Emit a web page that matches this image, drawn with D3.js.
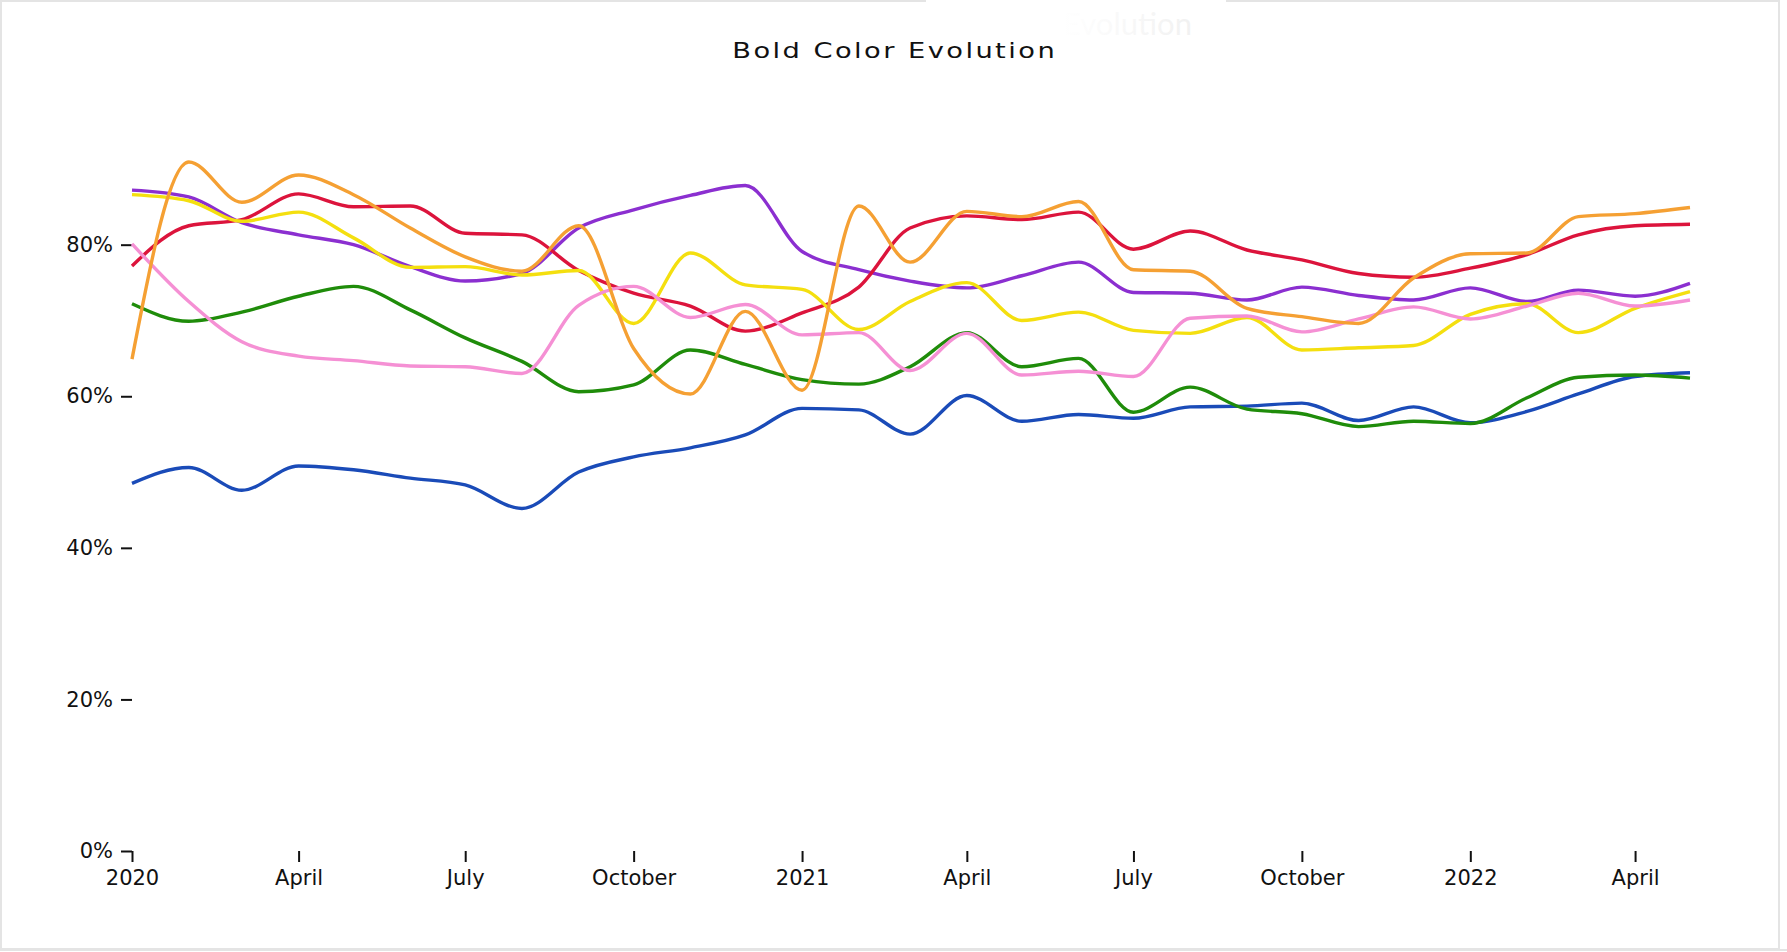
<!DOCTYPE html>
<html>
<head>
<meta charset="utf-8">
<script src="https://cdn.jsdelivr.net/npm/d3@7"></script>
<style>
  html, body { margin: 0; padding: 0; background: #fff; overflow: hidden; }
  .axis text { font-family: "DejaVu Sans", sans-serif; font-size: 21px; fill: #111; }
  .axis line { stroke: #111; stroke-width: 2; }
  .axis path { display: none; }
</style>
</head>
<body>
<svg id="chart" width="1787" height="952"></svg>
<script>
// Monthly samples, Jan 2020 - May 2022
const months = [
  '2020-01', '2020-02', '2020-03', '2020-04', '2020-05', '2020-06', '2020-07', '2020-08', '2020-09', '2020-10', '2020-11', '2020-12',
  '2021-01', '2021-02', '2021-03', '2021-04', '2021-05', '2021-06', '2021-07', '2021-08', '2021-09', '2021-10', '2021-11', '2021-12',
  '2022-01', '2022-02', '2022-03', '2022-04', '2022-05'
];

const blue   = [48.5, 50.6, 47.6, 50.8, 50.3, 49.2, 48.3, 45.2, 50.0, 52.0, 53.2, 54.9, 58.4, 58.2, 55.0, 60.1, 56.7, 57.6, 57.1, 58.6, 58.7, 59.1, 56.8, 58.6, 56.5, 58.0, 60.3, 62.6, 63.1];
const green  = [72.2, 69.9, 71.1, 73.2, 74.5, 71.4, 67.7, 64.6, 60.6, 61.5, 66.1, 64.2, 62.2, 61.6, 63.9, 68.4, 63.9, 65.0, 57.9, 61.2, 58.3, 57.7, 56.0, 56.7, 56.4, 59.8, 62.5, 62.8, 62.4];
const purple = [87.2, 86.3, 82.9, 81.3, 80.0, 77.1, 75.2, 76.2, 82.2, 84.6, 86.5, 87.8, 79.1, 76.7, 75.2, 74.3, 75.9, 77.7, 73.7, 73.6, 72.7, 74.4, 73.3, 72.7, 74.3, 72.5, 74.0, 73.2, 74.9];
const red    = [77.2, 82.5, 83.3, 86.7, 85.0, 85.1, 81.5, 81.3, 76.6, 73.6, 71.9, 68.6, 71.0, 74.4, 82.2, 83.8, 83.3, 84.3, 79.4, 81.8, 79.3, 78.0, 76.2, 75.7, 76.9, 78.7, 81.3, 82.5, 82.7];
const yellow = [86.6, 85.8, 83.1, 84.3, 80.9, 77.0, 77.1, 76.0, 76.6, 69.6, 78.9, 74.7, 74.1, 68.8, 72.5, 75.0, 70.0, 71.1, 68.7, 68.3, 70.4, 66.1, 66.4, 66.7, 70.8, 72.2, 68.4, 71.6, 73.8];
const pink   = [80.1, 72.5, 67.2, 65.3, 64.7, 64.0, 63.9, 63.0, 72.0, 74.5, 70.4, 72.1, 68.1, 68.4, 63.4, 68.3, 62.8, 63.3, 62.6, 70.3, 70.6, 68.5, 70.2, 71.8, 70.2, 71.9, 73.6, 71.9, 72.7];
const orange = [64.9, 90.9, 85.6, 89.2, 86.6, 82.2, 78.4, 76.5, 82.5, 66.3, 60.3, 71.2, 60.8, 85.1, 77.7, 84.4, 83.7, 85.7, 76.7, 76.5, 71.6, 70.5, 69.6, 75.6, 78.8, 78.9, 83.7, 84.1, 84.9];

const seriesNames  = ['Blue', 'Green', 'Purple', 'Crimson', 'Yellow', 'Pink', 'Orange'];
const seriesValues = [blue, green, purple, red, yellow, pink, orange];
const seriesColors = ['#1a4bb8', '#1f8c0a', '#8b2fd0', '#dc143c', '#f4df0f', '#f590d4', '#f5a033'];

const W = 1787, H = 952;
const margin = { top: 131, right: 97, bottom: 101, left: 132 };

const svg = d3.select('#chart');

// frame around the chart
svg.append('rect')
  .attr('x', 1).attr('y', 1)
  .attr('width', 1778).attr('height', 948)
  .attr('fill', 'none')
  .attr('stroke', '#e4e4e4')
  .attr('stroke-width', 2);
svg.append('line')
  .attr('x1', 0).attr('x2', W).attr('y1', 950).attr('y2', 950)
  .attr('stroke', '#e4e4e4').attr('stroke-width', 2);

// fading leftover of the previous title
const grad = svg.append('defs').append('linearGradient').attr('id', 'ghost');
grad.append('stop').attr('offset', '0%').attr('stop-color', '#fff');
grad.append('stop').attr('offset', '100%').attr('stop-color', '#f1f1f1');
svg.append('rect')
  .attr('x', 926).attr('y', 0).attr('width', 300).attr('height', 4)
  .attr('fill', '#fff');
svg.append('text')
  .attr('x', 1192).attr('y', 35)
  .attr('text-anchor', 'end')
  .style('font-family', 'Lato, sans-serif')
  .style('font-size', '31px')
  .attr('fill', 'url(#ghost)')
  .text('Evolution');

// title: wide geometric look, stretched a little horizontally
svg.append('text')
  .attr('transform', `translate(${W / 2},58) scale(1.3,1)`)
  .attr('text-anchor', 'middle')
  .attr('textLength', 248)
  .attr('lengthAdjust', 'spacing')
  .style('font-family', '"DejaVu Sans", sans-serif')
  .style('font-size', '21px')
  .attr('fill', '#111')
  .text('Bold Color Evolution');

const parse = d3.timeParse('%Y-%m');
const dates = months.map(parse);

const x = d3.scaleTime()
  .domain(d3.extent(dates))
  .range([margin.left, W - margin.right]);

const y = d3.scaleLinear()
  .domain([0, 0.95])
  .range([H - margin.bottom, margin.top]);

const monthFmt = d3.timeFormat('%B');
const yearFmt = d3.timeFormat('%Y');

svg.append('g')
  .attr('class', 'axis')
  .attr('transform', `translate(0,${H - margin.bottom})`)
  .call(d3.axisBottom(x)
    .ticks(d3.timeMonth.every(3))
    .tickSize(11)
    .tickPadding(8)
    .tickFormat(d => d.getMonth() === 0 ? yearFmt(d) : monthFmt(d)));

svg.append('g')
  .attr('class', 'axis')
  .attr('transform', `translate(${margin.left},0)`)
  .call(d3.axisLeft(y)
    .ticks(5, '.0%')
    .tickSize(11)
    .tickPadding(8));

const line = d3.line()
  .x((d, i) => x(dates[i]))
  .y(d => y(d / 100))
  .curve(d3.curveMonotoneX);

svg.append('g')
  .selectAll('path')
  .data(seriesValues)
  .join('path')
  .attr('class', (d, i) => 'series ' + seriesNames[i])
  .attr('fill', 'none')
  .attr('stroke', (d, i) => seriesColors[i])
  .attr('stroke-width', 3.4)
  .attr('stroke-linejoin', 'round')
  .attr('d', line);
</script>
</body>
</html>
